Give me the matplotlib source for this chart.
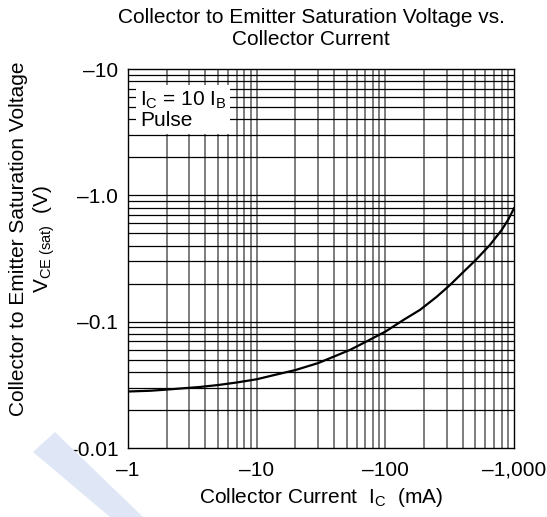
import matplotlib
matplotlib.use("Agg")
import matplotlib.pyplot as plt
from matplotlib.patches import Polygon

plt.rcParams['font.family'] = ['Liberation Sans', 'DejaVu Sans']
plt.rcParams['mathtext.fontset'] = 'custom'
plt.rcParams['mathtext.rm'] = 'Liberation Sans'
plt.rcParams['mathtext.it'] = 'Liberation Sans'

# courbe (valeurs absolues, echelle log-log)
ic_ma = [1, 1.5, 2, 3.6, 5, 7, 10, 14, 20, 30, 40, 53, 70, 100, 140, 186,
         250, 318, 400, 500, 650, 800, 900, 1000]
vce_sat = [0.028, 0.0284, 0.029, 0.0304, 0.0315, 0.033, 0.035, 0.038, 0.0414,
           0.047, 0.053, 0.0597, 0.069, 0.0834, 0.104, 0.124, 0.157, 0.195,
           0.245, 0.305, 0.405, 0.53, 0.64, 0.79]

x_ticks = [1, 10, 100, 1000]
x_labels = ['\u20131', '\u201310', '\u2013100', '\u20131,000']
y_ticks = [0.01, 0.1, 1, 10]
y_labels = ['\u20130.01', '\u20130.1', '\u20131.0', '\u201310']

FS = 15

fig = plt.figure(figsize=(5.47, 5.17), dpi=100)
ax = fig.add_axes([128/547, 1-448/517, 386/547, 379/517])
ax.set_xscale('log')
ax.set_yscale('log')
ax.set_xlim(1, 1000)
ax.set_ylim(0.01, 10)

# grille: verticales grises, horizontales noires
minors_x = [m*10**d for d in range(0, 3) for m in range(2, 10)] + [10, 100]
minors_y = [m*10**d for d in range(-2, 1) for m in range(2, 10)] + [0.1, 1]
for v in minors_x:
    ax.axvline(v, color='#5a5a5a', lw=1.1, zorder=1)
for v in minors_y:
    ax.axhline(v, color='black', lw=0.9, zorder=1)

ax.plot(ic_ma, vce_sat, color='black', lw=1.6, zorder=3)

ax.set_xticks(x_ticks)
ax.set_xticklabels(x_labels)
ax.set_yticks(y_ticks)
ax.set_yticklabels(y_labels)
ax.minorticks_off()
ax.tick_params(length=0, labelsize=FS)
ax.tick_params(axis='y', pad=7)
ax.tick_params(axis='x', pad=9)
for s in ax.spines.values():
    s.set_linewidth(1.0)
    s.set_zorder(4)

ax.text(0.031, 0.945, '$\\mathregular{I_C}$ = 10 $\\mathregular{I_B}$\nPulse',
        transform=ax.transAxes, fontsize=FS, va='top', ha='left',
        linespacing=1.0, zorder=5,
        bbox=dict(facecolor='white', edgecolor='none', pad=2.5))

ax.set_xlabel('Collector Current  $\\mathregular{I_C}$  (mA)', fontsize=FS, labelpad=5)

fig.text(0.060, 1-239/517,
         'Collector to Emitter Saturation Voltage\n$\\mathregular{V_{CE\\ (sat)}}$  (V)',
         rotation=90, ha='center', va='center', fontsize=FS, multialignment='center')
fig.text(311/547, 1-8/517, 'Collector to Emitter Saturation Voltage vs.\nCollector Current',
         ha='center', va='top', fontsize=FS)

# filigrane bleu clair en bas a gauche
fig.patches.append(Polygon([(33/547, 1-452/517), (55/547, 1-432/517), (143/547, 0), (110/547, 0)],
                           closed=True, transform=fig.transFigure, facecolor='#dfe6f6',
                           edgecolor='none', zorder=0))

fig.savefig('out.png', dpi=100)
